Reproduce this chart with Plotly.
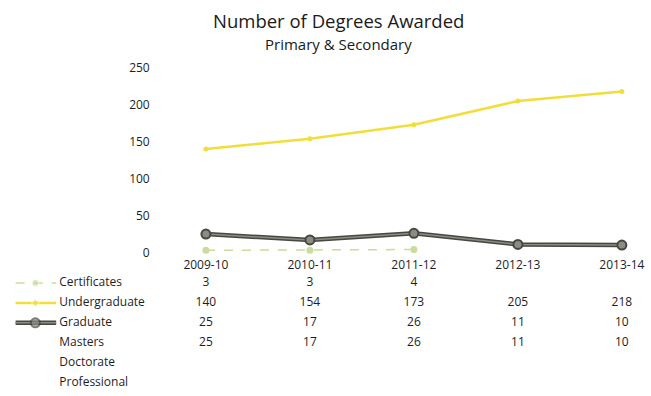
import plotly.graph_objects as go

# Academic years and degree counts
years = ["2009-10", "2010-11", "2011-12", "2012-13", "2013-14"]
certificates = [3, 3, 4, None, None]
undergraduate = [140, 154, 173, 205, 218]
graduate = [25, 17, 26, 11, 10]
masters = [25, 17, 26, 11, 10]
doctorate = [None, None, None, None, None]
professional = [None, None, None, None, None]

y_ticks = [0, 50, 100, 150, 200, 250]

row_names = ["Certificates", "Undergraduate", "Graduate", "Masters", "Doctorate", "Professional"]
row_values = [certificates, undergraduate, graduate, masters, doctorate, professional]

FONT = "Open Sans"
TXT = "#1e1e1e"
WEIGHT = 500
CERT = "#c9dc9c"
UGRAD = "#f2de3a"
GRAD_DARK = "#474744"
GRAD_LIGHT = "#8c8c82"

xs = list(range(len(years)))
fig = go.Figure()

# --- chart lines -----------------------------------------------------------
fig.add_trace(go.Scatter(
    x=xs, y=certificates, mode="lines+markers", cliponaxis=False,
    line=dict(color=CERT, width=1.5, dash="dash"),
    marker=dict(color=CERT, size=7), hoverinfo="skip", showlegend=False))
fig.add_trace(go.Scatter(
    x=xs, y=undergraduate, mode="lines+markers", cliponaxis=False,
    line=dict(color=UGRAD, width=2.5),
    marker=dict(color=UGRAD, size=5), hoverinfo="skip", showlegend=False))
fig.add_trace(go.Scatter(
    x=xs, y=graduate, mode="lines", cliponaxis=False,
    line=dict(color=GRAD_DARK, width=4.5), hoverinfo="skip", showlegend=False))
fig.add_trace(go.Scatter(
    x=xs, y=graduate, mode="lines+markers", cliponaxis=False,
    line=dict(color=GRAD_LIGHT, width=1.5),
    marker=dict(color=GRAD_LIGHT, size=9, line=dict(color=GRAD_DARK, width=2)),
    hoverinfo="skip", showlegend=False))

# --- data table below the chart -------------------------------------------
rows = list(range(len(row_names)))
key_x0, key_xm, key_x1, label_x = -1.83, -1.64, -1.44, -1.41

# legend keys for the three plotted series
fig.add_trace(go.Scatter(
    x=[key_x0, key_xm, key_x1], y=[0, 0, 0], xaxis="x", yaxis="y2",
    mode="lines+markers", line=dict(color=CERT, width=1.5, dash="dash"),
    marker=dict(color=CERT, size=[0, 7, 0]), hoverinfo="skip", showlegend=False))
fig.add_trace(go.Scatter(
    x=[key_x0, key_xm, key_x1], y=[1, 1, 1], xaxis="x", yaxis="y2",
    mode="lines+markers", line=dict(color=UGRAD, width=2.5),
    marker=dict(color=UGRAD, size=[0, 6, 0], symbol="diamond"), hoverinfo="skip", showlegend=False))
fig.add_trace(go.Scatter(
    x=[key_x0, key_x1], y=[2, 2], xaxis="x", yaxis="y2",
    mode="lines", line=dict(color=GRAD_DARK, width=4.5), hoverinfo="skip", showlegend=False))
fig.add_trace(go.Scatter(
    x=[key_x0, key_xm, key_x1], y=[2, 2, 2], xaxis="x", yaxis="y2",
    mode="lines+markers", line=dict(color=GRAD_LIGHT, width=1.5),
    marker=dict(color=GRAD_LIGHT, size=[0, 9, 0], line=dict(color=GRAD_DARK, width=[0, 2, 0])),
    hoverinfo="skip", showlegend=False))

# row labels
fig.add_trace(go.Scatter(
    x=[label_x] * len(row_names), y=rows, xaxis="x", yaxis="y2",
    mode="text", text=row_names, textposition="middle right",
    textfont=dict(family=FONT, size=12, color=TXT, weight=WEIGHT),
    hoverinfo="skip", showlegend=False))

# row values
for r, vals in enumerate(row_values):
    cx = [x for x, v in zip(xs, vals) if v is not None]
    cv = [str(v) for v in vals if v is not None]
    if not cx:
        continue
    fig.add_trace(go.Scatter(
        x=cx, y=[r] * len(cx), xaxis="x", yaxis="y2",
        mode="text", text=cv, textposition="middle center",
        textfont=dict(family=FONT, size=12, color=TXT, weight=WEIGHT),
        hoverinfo="skip", showlegend=False))

tickfont = dict(family=FONT, size=12, color=TXT, weight=WEIGHT)

fig.update_layout(
    width=651, height=396,
    margin=dict(l=0, r=0, t=0, b=0),
    paper_bgcolor="white", plot_bgcolor="white",
    font=dict(family=FONT, color=TXT, size=12),
    showlegend=False,
    xaxis=dict(
        domain=[0, 1], range=[-1.98, 4.28],
        tickmode="array", tickvals=xs, ticktext=years,
        showgrid=False, zeroline=False, showline=False, ticks="",
        tickfont=tickfont, anchor="y"),
    yaxis=dict(
        domain=[0.3485, 0.8485], range=[-5.32, 258],
        tickmode="array", tickvals=y_ticks,
        showgrid=False, zeroline=False, showline=False, ticks="",
        tickfont=tickfont, anchor="free", position=0.23),
    yaxis2=dict(
        domain=[0, 0.3485], range=[5.468, -1.33],
        showgrid=False, zeroline=False, showline=False,
        showticklabels=False, ticks="", anchor="x"),
    annotations=[
        dict(text="Number of Degrees Awarded", x=0.52, y=1 - 18 / 396,
             xref="paper", yref="paper", showarrow=False, xanchor="center", yanchor="middle",
             font=dict(family=FONT, size=18.5, color="#1a1a1a", weight=WEIGHT)),
        dict(text="Primary &amp; Secondary", x=0.52, y=1 - 42 / 396,
             xref="paper", yref="paper", showarrow=False, xanchor="center", yanchor="middle",
             font=dict(family=FONT, size=15, color="#1a1a1a", weight=WEIGHT)),
    ],
)

fig.write_html("out.html")
